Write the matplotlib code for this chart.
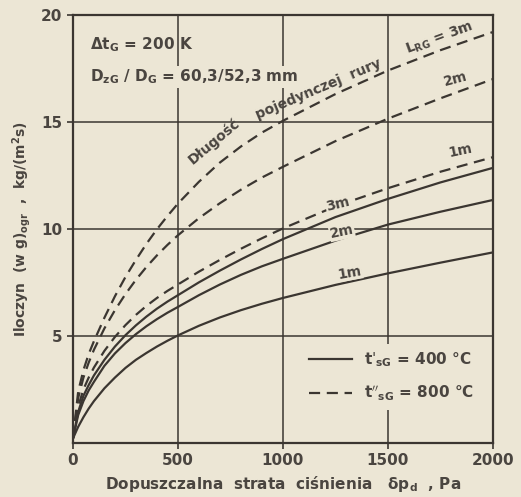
import numpy as np
import matplotlib
matplotlib.use("Agg")
import matplotlib.pyplot as plt
from matplotlib.lines import Line2D

# pressure drop dp_d, Pa
dp = [0, 25, 50, 75, 100, 150, 200, 250, 300, 350, 400, 450, 500,
      600, 700, 800, 900, 1000, 1250, 1500, 1750, 2000]

# (w g)_ogr, t'_sG = 400 C (solid)
solid_3m = [0.2, 1.45, 2.2, 2.7, 3.15, 3.88, 4.5, 5.03, 5.49, 5.9, 6.27, 6.6, 6.9,
            7.5, 8.05, 8.57, 9.06, 9.52, 10.55, 11.4, 12.17, 12.85]
solid_2m = [0.2, 1.3, 1.95, 2.45, 2.85, 3.6, 4.18, 4.66, 5.08, 5.45, 5.78, 6.08, 6.35,
            6.9, 7.4, 7.85, 8.25, 8.6, 9.45, 10.2, 10.8, 11.35]
solid_1m = [0.2, 0.75, 1.2, 1.6, 1.95, 2.55, 3.05, 3.5, 3.88, 4.2, 4.5, 4.77, 5.02,
            5.47, 5.86, 6.2, 6.5, 6.77, 7.38, 7.92, 8.42, 8.9]

# t''_sG = 800 C (dashed)
dash_3m = [0.2, 2.4, 3.4, 4.15, 4.75, 5.85, 6.85, 7.75, 8.55, 9.3, 9.98, 10.6, 11.18,
           12.2, 13.1, 13.85, 14.5, 15.05, 16.3, 17.4, 18.35, 19.2]
dash_2m = [0.2, 2.1, 3.05, 3.75, 4.35, 5.35, 6.2, 6.95, 7.62, 8.22, 8.76, 9.25, 9.7,
           10.5, 11.2, 11.83, 12.4, 12.9, 14.1, 15.15, 16.1, 17.0]
dash_1m = [0.2, 1.7, 2.5, 3.05, 3.52, 4.3, 4.95, 5.5, 5.98, 6.4, 6.77, 7.1, 7.4,
           8.0, 8.55, 9.07, 9.56, 10.02, 11.05, 11.9, 12.67, 13.35]

xticks = [0, 500, 1000, 1500, 2000]
yticks = [5, 10, 15, 20]

paper = "#ece6d5"
ink = "#3b3631"
txt = "#4a4540"

plt.rcParams['font.family'] = ['DejaVu Sans']

fig = plt.figure(figsize=(5.21, 4.97), dpi=100, facecolor=paper)
ax = fig.add_axes([0.140, 0.109, 0.806, 0.861])
ax.set_facecolor(paper)

for v in [500, 1000, 1500]:
    ax.axvline(v, color=ink, lw=1.1, zorder=1)
for v in [5, 10, 15]:
    ax.axhline(v, color=ink, lw=1.1, zorder=1)

dash = (0, (5, 3))
for ys in [solid_3m, solid_2m, solid_1m]:
    ax.plot(dp, ys, color=ink, lw=1.6, zorder=3)
for ys in [dash_3m, dash_2m, dash_1m]:
    ax.plot(dp, ys, color=ink, lw=1.6, ls=dash, zorder=3)

ax.set_xlim(0, 2000)
ax.set_ylim(0, 20)
ax.set_xticks(xticks)
ax.set_yticks(yticks)
ax.tick_params(colors=ink, labelcolor=txt, labelsize=11, length=4, width=1.2)
for lab in ax.get_xticklabels() + ax.get_yticklabels():
    lab.set_fontweight('bold')
for s in ax.spines.values():
    s.set_color(ink)
    s.set_linewidth(1.6)

ax.set_xlabel("Dopuszczalna  strata  ciśnienia   δp$_\\mathregular{d}$  , Pa",
              fontsize=11, color=txt, fontweight='bold', labelpad=4)
ax.set_ylabel("Iloczyn  (w g)$_\\mathregular{ogr}$  ,  kg/(m$^\\mathregular{2}$s)",
              fontsize=10, color=txt, fontweight='bold', labelpad=6)

tkw = dict(color=txt, fontweight='bold', zorder=5)
ax.text(0.04, 0.93, "Δt$_\\mathregular{G}$ = 200 K", transform=ax.transAxes,
        fontsize=11, va='center', **tkw)
ax.text(0.04, 0.855, "D$_\\mathregular{zG}$ / D$_\\mathregular{G}$ = 60,3/52,3 mm",
        transform=ax.transAxes, fontsize=11, va='center',
        bbox=dict(facecolor=paper, edgecolor='none', pad=1), **tkw)

# labels along curves
bg = dict(facecolor=paper, edgecolor='none', pad=0.5)
ax.text(670, 14.1, "Długość", rotation=40, fontsize=10, ha='center', va='center', **tkw)
ax.text(1170, 16.55, "pojedynczej  rury", rotation=23, fontsize=10, ha='center', va='center', **tkw)
ax.text(1745, 18.9, "L$_\\mathregular{RG}$ = 3m", rotation=20, fontsize=10, ha='center', va='center', **tkw)
ax.text(1820, 17.0, "2m", rotation=15, fontsize=10, ha='center', va='center', bbox=bg, **tkw)
ax.text(1845, 13.65, "1m", rotation=12, fontsize=10, ha='center', va='center', bbox=bg, **tkw)
ax.text(1262, 11.15, "3m", rotation=14, fontsize=10, ha='center', va='center', bbox=bg, **tkw)
ax.text(1281, 9.85, "2m", rotation=12, fontsize=10, ha='center', va='center', bbox=bg, **tkw)
ax.text(1319, 7.95, "1m", rotation=10, fontsize=10, ha='center', va='center', bbox=bg, **tkw)

handles = [Line2D([], [], color=ink, lw=1.6),
           Line2D([], [], color=ink, lw=1.6, ls=dash)]
labels = ["t$'_\\mathregular{sG}$ = 400 °C", "t$''_\\mathregular{sG}$ = 800 °C"]
leg = ax.legend(handles, labels, loc='lower left', bbox_to_anchor=(0.53, 0.06),
                frameon=True, fontsize=11, handlelength=2.8, labelspacing=1.0,
                facecolor=paper, edgecolor='none', framealpha=1)
for t in leg.get_texts():
    t.set_color(txt)
    t.set_fontweight('bold')
leg.set_zorder(6)

fig.savefig("out.png", dpi=100, facecolor=paper)
